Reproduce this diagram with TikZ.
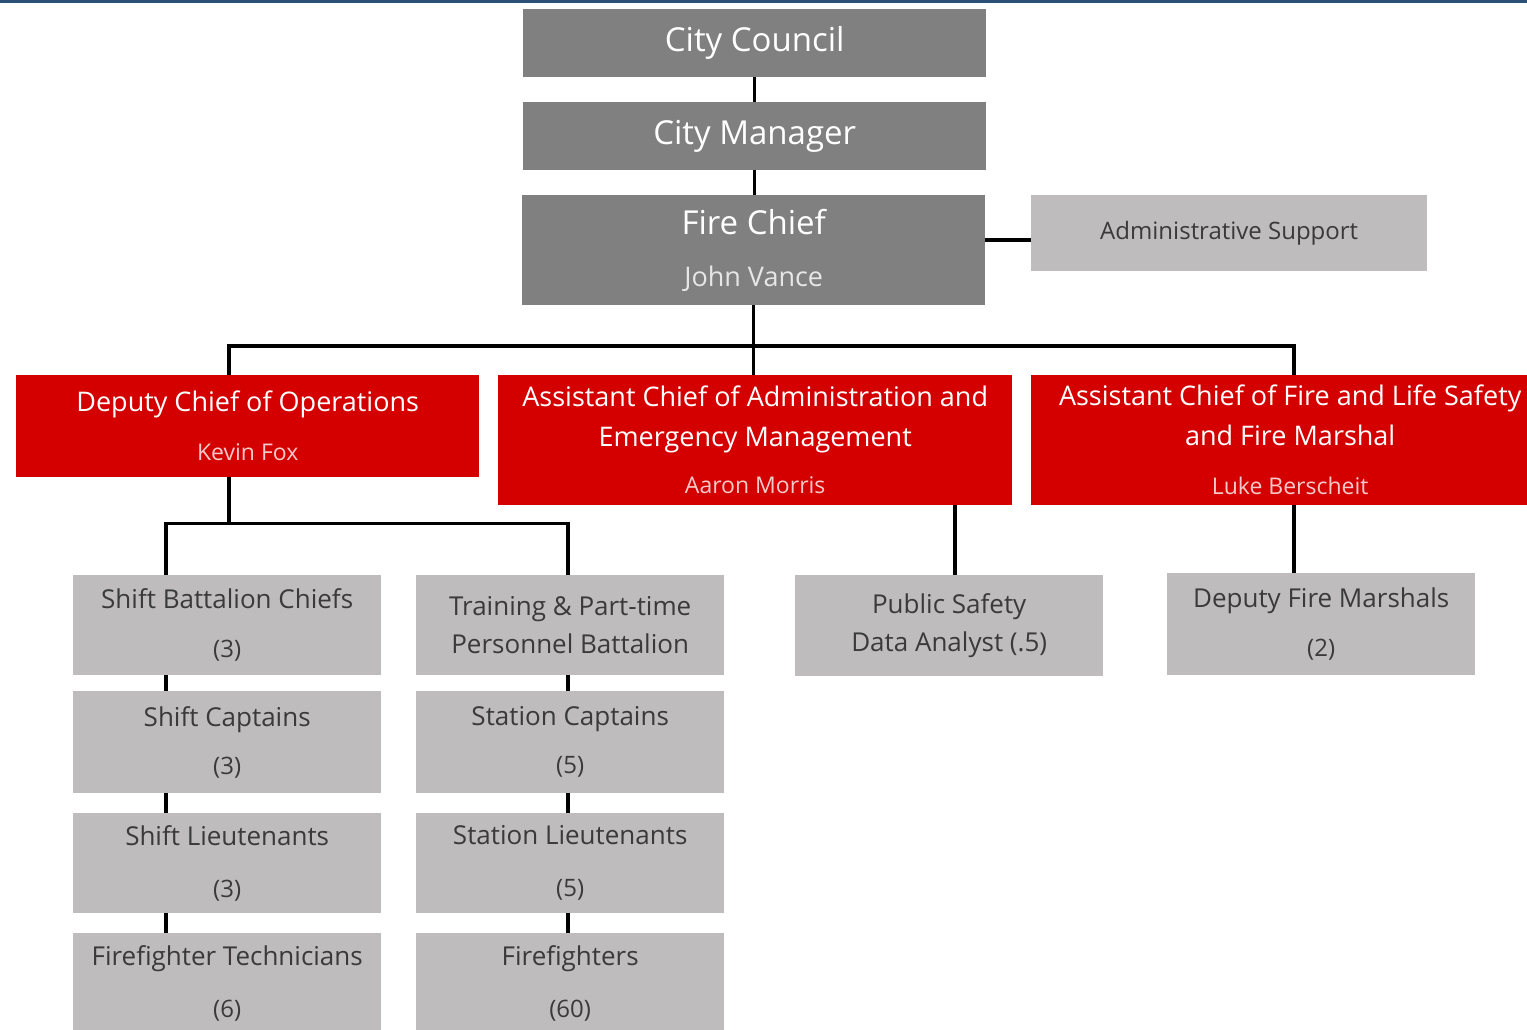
\documentclass[tikz,border=0pt]{standalone}
\usepackage{fontspec}
\setmainfont{Open Sans}
\usetikzlibrary{calc}
\definecolor{topBlue}{HTML}{2B4F75}
\definecolor{headGray}{HTML}{808080}
\definecolor{unitGray}{HTML}{BEBCBD}
\definecolor{cmdRed}{HTML}{D40000}
\definecolor{nameGray}{HTML}{E6E6E6}
\definecolor{namePink}{HTML}{F6CACA}
\definecolor{unitText}{HTML}{3A3A3A}
\newcommand{\headFont}{\fontsize{33}{40}\selectfont}
\newcommand{\cmdFont}{\fontsize{27}{40}\selectfont}
\newcommand{\unitFont}{\fontsize{26}{38}\selectfont}
\newcommand{\nameFont}{\fontsize{23}{28}\selectfont}
\newcommand{\countFont}{\fontsize{24}{28}\selectfont}

\begin{document}
\begin{tikzpicture}[x=1pt, y=-1pt,
  box/.style={anchor=north west, inner sep=0pt, align=center},
  head/.style={box, fill=headGray, text=white, font=\headFont, minimum width=463, minimum height=68},
  cmd/.style={box, fill=cmdRed, text=white, font=\cmdFont},
  unit/.style={box, fill=unitGray, text=unitText, font=\unitFont, minimum width=308, minimum height=100},
  link/.style={draw=black, line width=3.5pt}]
  \useasboundingbox (0,0) rectangle (1527,1029);
  \fill[topBlue] (0,0) rectangle (1527,3);

  % top of the chain
  \node[head] (council) at (523,9) {City Council};
  \node[head] (manager) at (523,102) {City Manager};
  \node[head, minimum height=110] (chief) at (522,195)
    {Fire Chief\\[12pt]{\fontsize{27}{30}\selectfont\color{nameGray}John Vance}};
  \node[box, fill=unitGray, text=unitText, font=\fontsize{24}{30}\selectfont,
    minimum width=396, minimum height=76] (admin) at (1031,195) {Administrative Support};

  % command staff
  \node[cmd, minimum width=463, minimum height=102] (ops) at (16,375)
    {Deputy Chief of Operations\\[9pt]{\nameFont\color{namePink}Kevin Fox}};
  \node[cmd, minimum width=514, minimum height=130] (asst) at (498,375)
    {Assistant Chief of Administration and\\Emergency Management\\[7pt]{\nameFont\color{namePink}Aaron Morris}};
  \node[cmd, minimum width=518, minimum height=130] (marshal) at (1031,375)
    {Assistant Chief of Fire and Life Safety\\and Fire Marshal\\[9pt]{\nameFont\color{namePink}Luke Berscheit}};

  % shift column
  \node[unit] (sbc) at (73,575) {Shift Battalion Chiefs\\[11pt]{\countFont(3)}};
  \node[unit, minimum height=102] (scap) at (73,691) {Shift Captains\\[10pt]{\countFont(3)}};
  \node[unit] (slt) at (73,813) {Shift Lieutenants\\[14pt]{\countFont(3)}};
  \node[unit] (fft) at (73,933) {Firefighter Technicians\\[14pt]{\countFont(6)}};

  % station column
  \node[unit] (train) at (416,575) {Training \& Part-time\\Personnel Battalion};
  \node[unit, minimum height=102] (stcap) at (416,691) {Station Captains\\[10pt]{\countFont(5)}};
  \node[unit] (stlt) at (416,813) {Station Lieutenants\\[14pt]{\countFont(5)}};
  \node[unit] (ff) at (416,933) {Firefighters\\[14pt]{\countFont(60)}};

  \node[unit, minimum height=101] (analyst) at (795,575) {Public Safety\\Data Analyst (.5)};
  \node[unit, minimum height=102] (dfm) at (1167,573) {Deputy Fire Marshals\\[11pt]{\countFont(2)}};

  \coordinate (opsX) at (229,0);
  \coordinate (shiftX) at (166,0);
  \coordinate (stationX) at (568,0);
  \coordinate (analystX) at (955,0);
  \coordinate (dfmX) at (1294,0);
  \coordinate (adminY) at (0,240);

  \draw[link] (council) -- (manager);
  \draw[link] (manager) -- (manager.south |- chief.north);
  \draw[link] (chief.east |- adminY) -- (admin.west |- adminY);
  \draw[link] (chief.south) -- (chief.south |- asst.north);
  \draw[link] (ops.north -| opsX) -- ++(0,-29) -| (marshal.north -| dfmX);
  \draw[link] (ops.south -| opsX) -- ++(0,46) coordinate (split);
  \draw[link] (sbc.north -| shiftX) |- (split) -| (train.north -| stationX);
  \foreach \a/\b in {sbc/scap, scap/slt, slt/fft}
    \draw[link] (\a.south -| shiftX) -- (\b.north -| shiftX);
  \foreach \a/\b in {train/stcap, stcap/stlt, stlt/ff}
    \draw[link] (\a.south -| stationX) -- (\b.north -| stationX);
  \draw[link] (asst.south -| analystX) -- (analyst.north -| analystX);
  \draw[link] (marshal.south -| dfmX) -- (dfm.north -| dfmX);
\end{tikzpicture}
\end{document}
